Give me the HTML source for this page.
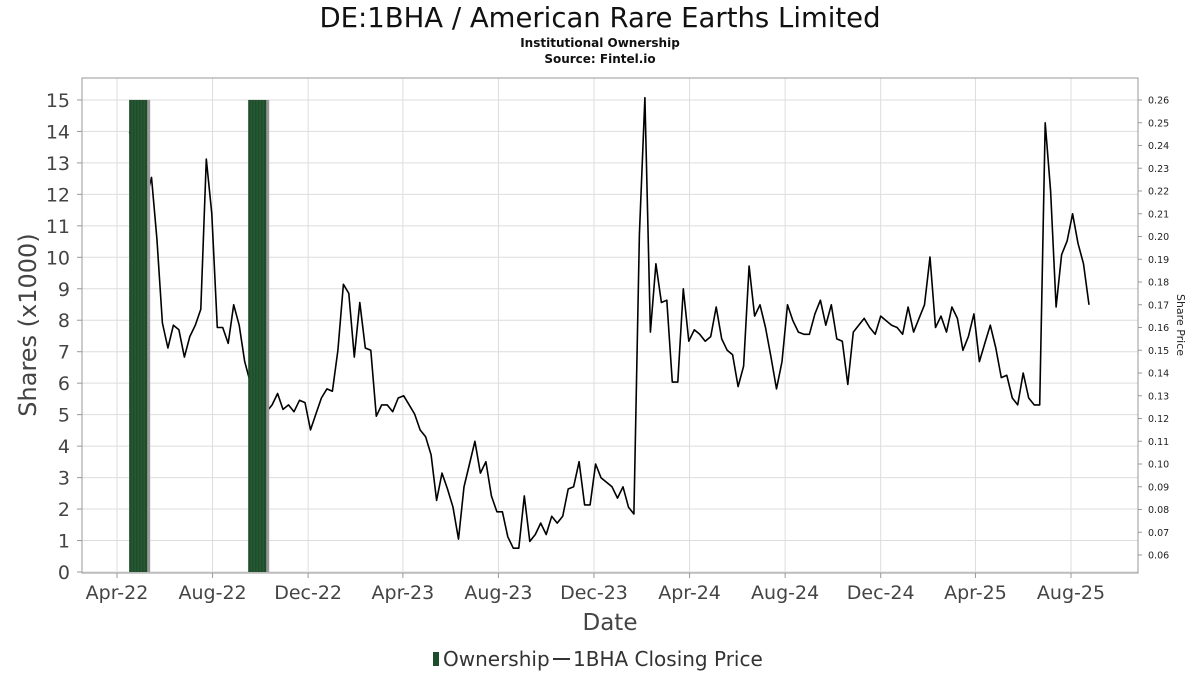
<!DOCTYPE html>
<html><head><meta charset="utf-8">
<style>
html,body{margin:0;padding:0;background:#fff;}
svg{display:block;font-family:"DejaVu Sans","Liberation Sans",sans-serif;}
</style></head>
<body>
<svg id="chart" width="1200" height="675" viewBox="0 0 1200 675" xmlns="http://www.w3.org/2000/svg">
<text x="600" y="27" text-anchor="middle" font-size="27.5" fill="#111">DE:1BHA / American Rare Earths Limited</text>
<text x="600" y="47" text-anchor="middle" font-size="12" font-weight="bold" fill="#111">Institutional Ownership</text>
<text x="600" y="63" text-anchor="middle" font-size="12" font-weight="bold" fill="#111">Source: Fintel.io</text>
<g id="grid"></g>
<g id="line"></g>
<g id="bars"></g>
<rect x="82" y="78" width="1056" height="495" fill="none" stroke="#999" stroke-width="1"/>
<g id="yleft"></g>
<g id="yright"></g>
<g id="xaxis"></g>
<text transform="translate(36,325) rotate(-90)" text-anchor="middle" font-size="24" fill="#444">Shares (x1000)</text>
<text transform="translate(1177,325) rotate(90)" text-anchor="middle" font-size="11" fill="#222">Share Price</text>
<text x="610" y="630" text-anchor="middle" font-size="23" fill="#444">Date</text>
<g>
<rect x="433" y="652" width="6" height="14" fill="#1e4d2b"/>
<text x="443" y="666" font-size="20" fill="#333">Ownership</text>
<line x1="553" y1="659" x2="570" y2="659" stroke="#333" stroke-width="2"/>
<text x="573" y="666" font-size="20" fill="#333">1BHA Closing Price</text>
</g>
</svg>
<script>
const leftTicks=[0,1,2,3,4,5,6,7,8,9,10,11,12,13,14,15];
const rightTicks=[0.06,0.07,0.08,0.09,0.10,0.11,0.12,0.13,0.14,0.15,0.16,0.17,0.18,0.19,0.20,0.21,0.22,0.23,0.24,0.25,0.26];
const xTickDates=["2022-04-01","2022-08-01","2022-12-01","2023-04-01","2023-08-01","2023-12-01","2024-04-01","2024-08-01","2024-12-01","2025-04-01","2025-08-01"];
const xTickLabels=["Apr-22","Aug-22","Dec-22","Apr-23","Aug-23","Dec-23","Apr-24","Aug-24","Dec-24","Apr-25","Aug-25"];
const ownershipDates=["2022-04-28","2022-09-27"];
const ownershipValues=[15,15];
const priceStart="2022-04-17";
const prices=[0.246,0.238,0.228,0.216,0.226,0.199,0.162,0.151,0.161,0.159,0.147,0.156,0.161,0.168,0.234,0.210,0.160,0.160,0.153,0.170,0.161,0.145,0.136,0.130,0.125,
0.123,0.126,0.131,0.124,0.126,0.123,0.128,0.127,0.115,0.122,
0.129,0.133,0.132,0.150,0.179,0.175,0.147,0.171,0.151,0.150,
0.121,0.126,0.126,0.123,0.129,0.130,0.126,0.122,0.115,0.112,
0.104,0.084,0.096,0.089,0.081,0.067,0.090,0.100,0.110,0.096,
0.101,0.086,0.079,0.079,0.068,0.063,0.063,0.086,0.066,0.069,
0.074,0.069,0.077,0.074,0.077,0.089,0.090,0.101,0.082,0.082,
0.100,0.094,0.092,0.090,0.085,0.090,0.081,0.078,0.201,0.261,
0.158,0.188,0.171,0.172,0.136,0.136,0.177,0.154,0.159,0.157,
0.154,0.156,0.169,0.155,0.150,0.148,0.134,0.143,0.187,0.165,
0.170,0.160,0.147,0.133,0.145,0.170,0.163,0.158,0.157,0.157,
0.166,0.172,0.161,0.170,0.155,0.154,0.135,0.158,0.161,0.164,
0.160,0.157,0.165,0.163,0.161,0.160,0.157,0.169,0.158,0.164,
0.170,0.191,0.160,0.165,0.158,0.169,0.164,0.150,0.156,0.166,
0.145,0.153,0.161,0.151,0.138,0.139,0.129,0.126,0.140,0.129,
0.126,0.126,0.250,0.220,0.169,0.192,0.198,0.210,0.197,0.188,
0.170];

const NS="http://www.w3.org/2000/svg";
const T0=Date.parse("2022-04-01"),T1=Date.parse("2025-08-01");
function xScale(t){return 117+(t-T0)/(T1-T0)*954;}
function yLeft(v){return 572-v*31.47;}
function yRight(p){return 100+(0.26-p)*2275;}
function mk(tag,attrs,parent){const e=document.createElementNS(NS,tag);for(const k in attrs)e.setAttribute(k,attrs[k]);parent.appendChild(e);return e;}
const grid=document.getElementById('grid'),yl=document.getElementById('yleft'),yr=document.getElementById('yright'),xa=document.getElementById('xaxis');
leftTicks.forEach(v=>{
  const y=yLeft(v);
  const g=mk('line',{x1:82,x2:1138,y1:y,y2:y,stroke:'#dddddd','stroke-width':1},grid);
  
  
  const t=mk('text',{x:70,y:y+7,'text-anchor':'end','font-size':19,fill:'#444'},yl);
  t.textContent=v;
  
  
  const tk=mk('line',{x1:77,x2:82,y1:y,y2:y,stroke:'#999'},yl);
  
  
});
rightTicks.forEach(p=>{
  const y=yRight(p);
  const tk=mk('line',{x1:1138,x2:1142,y1:y,y2:y,stroke:'#999'},yr);
  
  
  const t=mk('text',{x:1148,y:y+3.5,'font-size':9.5,fill:'#222'},yr);
  t.textContent=p.toFixed(2);
  
  
});
xTickDates.forEach((d,i)=>{
  const x=xScale(Date.parse(d));
  const g=mk('line',{x1:x,x2:x,y1:78,y2:573,stroke:'#dddddd'},grid);
  
  
  const tk=mk('line',{x1:x,x2:x,y1:573,y2:578,stroke:'#999'},xa);
  
  
  const t=mk('text',{x:x,y:599,'text-anchor':'middle','font-size':19,fill:'#444'},xa);
  t.textContent=xTickLabels[i];
  
  
});
const bars=document.getElementById('bars');
ownershipDates.forEach((d,i)=>{
  const x=xScale(Date.parse(d));
  const top=yLeft(ownershipValues[i]);
  const sh=mk('rect',{x:x-8,y:top,width:20,height:572-top,fill:'#999'},bars);
  
  
  const b=mk('rect',{x:x-9,y:top,width:18,height:572-top,fill:'#1e4d2b'},bars);
  
  
  for(let k=1;k<6;k++){
    const s=mk('line',{x1:x-9+k*3,x2:x-9+k*3,y1:top,y2:572,stroke:'#2c5e38','stroke-width':1},bars);
    
    
  }
});
const s0=Date.parse(priceStart);
const pts=prices.map((p,i)=>xScale(s0+i*7*86400000).toFixed(1)+','+yRight(p).toFixed(1)).join(' ');
const pl=mk('polyline',{points:pts,fill:'none',stroke:'#000','stroke-width':1.6,'stroke-linejoin':'round'},document.getElementById('line'));


</script>
</body></html>
